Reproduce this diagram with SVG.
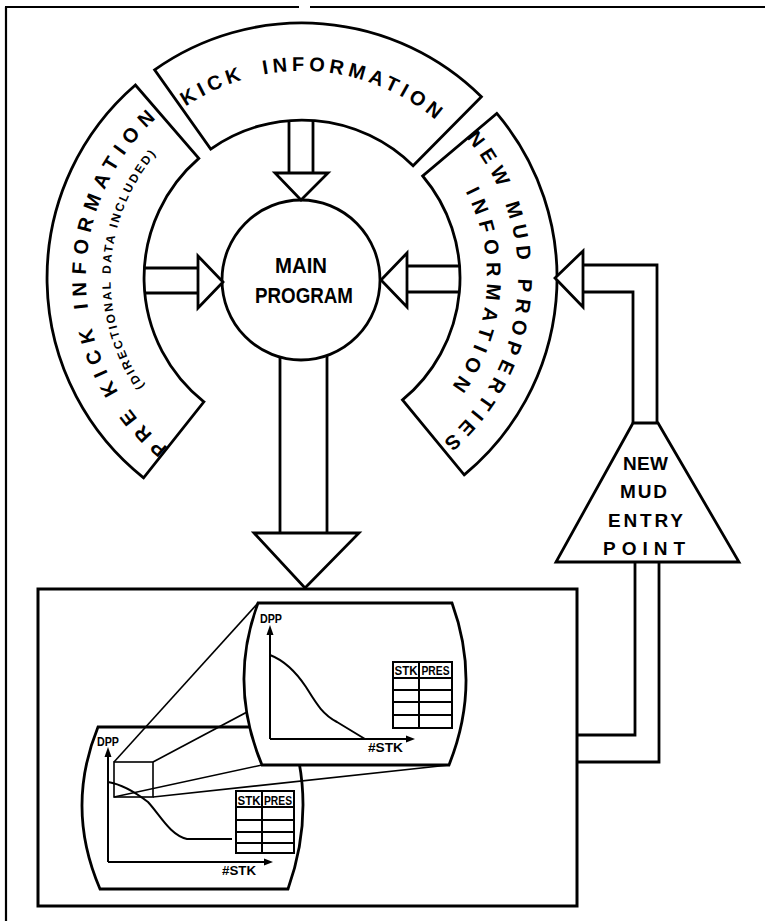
<svg xmlns="http://www.w3.org/2000/svg" width="765" height="921" viewBox="0 0 765 921">
<style>
.ln{fill:none;stroke:#000;stroke-width:2.8;stroke-linejoin:miter}
.sh{fill:#fff;stroke:#000;stroke-width:2.8;stroke-linejoin:miter}
.thin{fill:none;stroke:#000;stroke-width:1.6}
.ax{fill:none;stroke:#000;stroke-width:2}
.tb{fill:#fff;stroke:#000;stroke-width:2}
.t{font-family:"Liberation Sans",Arial,sans-serif;font-weight:bold;fill:#000}
</style>
<defs>
<path id="kp" d="M129.6,163.4 A207,207 0 0 1 487.4,186"/>
<path id="lp" d="M197.9,467.3 A216,216 0 0 1 190.1,93.2"/>
<path id="lsp" d="M197.1,438.2 A191.5,191.5 0 0 1 215.7,107.1"/>
<path id="rp" d="M426.4,101.4 A216,216 0 0 1 392.8,474"/>
<path id="rip" d="M408.1,126.5 A185,185 0 0 1 380.2,445.7"/>
</defs>
<rect x="0" y="0" width="765" height="921" fill="#fff"/>

<g id="frame" class="ln" style="stroke-width:2.2">
<line x1="6" y1="7" x2="6" y2="921"/>
<line x1="5" y1="7" x2="299" y2="7"/>
<line x1="310" y1="7" x2="765" y2="7"/>
</g>

<g id="kick-information">
<path class="sh" d="M154.6,69.9 A255,255 0 0 1 481.4,96.7 L413.1,165.7 A158,158 0 0 0 210.7,149.1 Z"/>
<text class="t" font-size="20" letter-spacing="4.4" text-anchor="middle"><textPath href="#kp" startOffset="50%">KICK <tspan dx="8">INFORMATION</tspan></textPath></text>
</g>

<g id="pre-kick-information">
<path class="sh" d="M143.6,477.8 A255,255 0 0 1 135.4,85 L198.8,158.4 A158,158 0 0 0 203.9,401.8 Z"/>
<text class="t" font-size="20" letter-spacing="7" text-anchor="middle"><textPath href="#lp" startOffset="50%">PRE KICK INFORMATION</textPath></text>
<text class="t" font-size="12" letter-spacing="2.3" text-anchor="middle"><textPath href="#lsp" startOffset="50%">(DIRECTIONAL DATA INCLUDED)</textPath></text>
</g>

<g id="new-mud-properties">
<path class="sh" d="M496.8,113.4 A255,255 0 0 1 464.2,474.8 L402.5,399.9 A158,158 0 0 0 422.7,176 Z"/>
<text class="t" font-size="20" letter-spacing="6.2" text-anchor="middle"><textPath href="#rp" startOffset="50%">NEW MUD PROPERTIES</textPath></text>
<text class="t" font-size="20" letter-spacing="6.6" text-anchor="middle"><textPath href="#rip" startOffset="50%">INFORMATION</textPath></text>
</g>

<g id="main-program">
<ellipse class="sh" cx="301" cy="280" rx="79" ry="80"/>
<text class="t" font-size="22" x="301" y="273" text-anchor="middle" textLength="52" lengthAdjust="spacingAndGlyphs">MAIN</text>
<text class="t" font-size="22" x="304" y="303" text-anchor="middle" textLength="98" lengthAdjust="spacingAndGlyphs">PROGRAM</text>
</g>

<g id="new-mud-entry-point">
<path class="sh" d="M633,423 L658,423 L739,562 L556,562 Z"/>
<text class="t" font-size="19" x="645.5" y="470" text-anchor="middle" textLength="45">NEW</text>
<text class="t" font-size="19" x="643.5" y="498" text-anchor="middle" textLength="47">MUD</text>
<text class="t" font-size="19" x="645.5" y="527" text-anchor="middle" textLength="75">ENTRY</text>
<text class="t" font-size="19" x="644" y="555" text-anchor="middle" textLength="82">POINT</text>
</g>

<g id="display">
<rect class="sh" style="stroke-width:3" x="38" y="589" width="539" height="317"/>
<g id="front-screen">
<path class="sh" d="M98,727 L290,727 Q317,808 288,889 L100,889 Q65,808 98,727 Z"/>
<line class="ax" x1="108" y1="862" x2="108" y2="754"/>
<polygon points="104.5,757 111.5,757 108,747"/>
<line class="ax" x1="108" y1="862" x2="266" y2="862"/>
<polygon points="264,858.5 264,865.5 273,862"/>
<text class="t" font-size="12.5" x="97" y="746" textLength="22" lengthAdjust="spacingAndGlyphs">DPP</text>
<text class="t" font-size="12.5" x="222" y="875" textLength="34" lengthAdjust="spacingAndGlyphs">#STK</text>
<path class="ax" d="M108,782 C120,784 135,792 148,802 C160,815 170,835 187,839 L232,839"/>
<rect class="tb" x="236" y="791" width="58" height="62"/>
<path class="ax" d="M262,791 V853 M236,807 H294 M236,820 H294 M236,832 H294 M236,843 H294"/>
<text class="t" font-size="13" x="249" y="805" text-anchor="middle" textLength="23" lengthAdjust="spacingAndGlyphs">STK</text>
<text class="t" font-size="13" x="278" y="805" text-anchor="middle" textLength="28" lengthAdjust="spacingAndGlyphs">PRES</text>
<rect class="thin" x="114" y="762" width="39" height="35"/>
</g>
<g id="zoom-lines" class="thin">
<line x1="114" y1="762" x2="258" y2="603"/>
<line x1="153" y1="762" x2="452" y2="603"/>
<line x1="114" y1="797" x2="262" y2="765"/>
<line x1="153" y1="797" x2="449" y2="765"/>
</g>
<g id="back-screen">
<path class="sh" d="M258,603 L452,603 Q481.5,684 449,765 L262,765 Q228,684 258,603 Z"/>
<line class="ax" x1="270" y1="739" x2="270" y2="632"/>
<polygon points="266.5,635 273.5,635 270,625"/>
<line class="ax" x1="270" y1="739" x2="408" y2="739"/>
<polygon points="406,735.5 406,742.5 415,739"/>
<text class="t" font-size="12.5" x="260" y="623" textLength="22" lengthAdjust="spacingAndGlyphs">DPP</text>
<text class="t" font-size="12.5" x="368" y="752" textLength="35" lengthAdjust="spacingAndGlyphs">#STK</text>
<path class="ax" d="M270,655 C283,660 296,672 306,687 C316,703 322,714 337,722 L365,739"/>
<rect class="tb" x="393" y="662" width="59" height="66"/>
<path class="ax" d="M419,662 V728 M393,678 H452 M393,690 H452 M393,702 H452 M393,715 H452"/>
<text class="t" font-size="13" x="406" y="675" text-anchor="middle" textLength="23" lengthAdjust="spacingAndGlyphs">STK</text>
<text class="t" font-size="13" x="435.5" y="675" text-anchor="middle" textLength="28" lengthAdjust="spacingAndGlyphs">PRES</text>
</g>
</g>

<g id="connectors">
<g id="kick-arrow">
<path class="ln" d="M289,120.5 V173 M313,120.4 V173"/>
<polygon class="sh" points="275,173 328,173 301,200"/>
</g>
<g id="prekick-arrow">
<path class="ln" d="M144.3,268 H198 M144.7,293 H198"/>
<polygon class="sh" points="198,256 198,308 223,282"/>
</g>
<g id="mud-arrow">
<path class="ln" d="M407,266 H459.5 M407,292 H459.4"/>
<polygon class="sh" points="407,253 407,307 381,280"/>
</g>
<g id="output-arrow">
<path class="ln" d="M280,357.1 V533 M327,355.5 V533"/>
<polygon class="sh" points="254,533 359,533 305,588"/>
</g>
<g id="entry-to-mud">
<path class="ln" d="M583,265 H657 V423 M583,292 H633 V423"/>
<polygon class="sh" points="583,251 583,307 555,278"/>
</g>
<g id="display-to-entry">
<path class="ln" d="M577,735 H635 V562 M577,762 H659 V562"/>
</g>
</g>
</svg>
